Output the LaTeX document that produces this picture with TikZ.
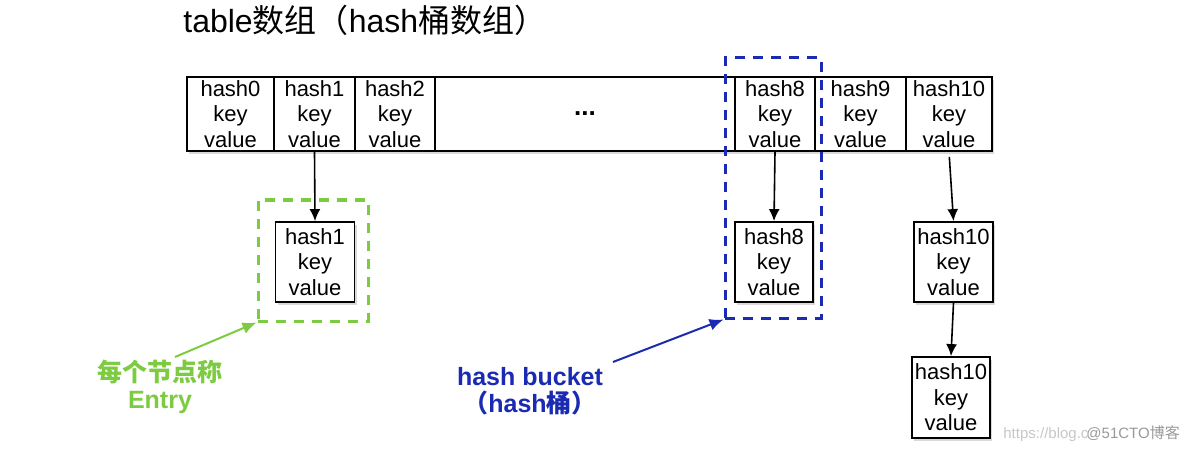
\documentclass[tikz,border=0pt]{standalone}
\usepackage{fontspec}
\setmainfont{Liberation Sans}
\newfontfamily\cjk{Noto Sans CJK SC}
\usetikzlibrary{arrows.meta,shadows}

\definecolor{entrygreen}{HTML}{7DCB40}
\definecolor{bucketblue}{HTML}{1A2AB2}
\newcommand{\zh}[1]{{\cjk #1}}

\tikzset{
  cell/.style={draw, line width=0.9pt, minimum height=37pt, inner sep=0pt, align=center,
    font=\fontsize{11}{12.8}\selectfont},
  entry/.style={cell, fill=white, minimum width=39.5pt, minimum height=40pt,
    drop shadow={opacity=0.3, shadow xshift=1pt, shadow yshift=-1.3pt}},
  link/.style={-{Latex[length=6pt,width=5.5pt]}, line width=0.8pt},
  group/.style={draw, line width=1.5pt, dash pattern=on 5pt off 4pt, inner sep=0pt},
  note/.style={align=center, font=\fontsize{12.5}{13.5}\selectfont\bfseries}
}

\begin{document}
\begin{tikzpicture}[x=0.5pt, y=-0.5pt]
\useasboundingbox (0,0) rectangle (1184,449);

% title
\node[anchor=base west, inner sep=0pt, font=\fontsize{16}{16}\selectfont] (title) at (183,33)
  {table\zh{数组（}hash\zh{桶数组）}};

% the table
\node[cell, minimum width=402.5pt, fill=white,
  drop shadow={opacity=0.3, shadow xshift=1pt, shadow yshift=-1.3pt}] (table) at (589.5,114) {};
\node[cell, minimum width=43.5pt] (h0) at (230.5,114) {hash0\\key\\value};
\node[cell, minimum width=40.5pt] (h1) at (314.5,114) {hash1\\key\\value};
\node[cell, minimum width=40pt] (h2) at (395,114) {hash2\\key\\value};
\node[cell, minimum width=150pt, font=\fontsize{13}{13}\selectfont\bfseries] (dots) at (585,114) {...};
\node[cell, minimum width=40pt] (h8) at (775,114) {hash8\\key\\value};
\node[cell, minimum width=45.5pt] (h9) at (860.5,114) {hash9\\key\\value};
\node[cell, minimum width=43pt] (h10) at (949,114) {hash10\\key\\value};

% entries
\node[entry] (e1) at (315,262) {hash1\\key\\value};
\node[entry, minimum width=39pt] (e8) at (774,262) {hash8\\key\\value};
\node[entry] (e10) at (953.5,262) {hash10\\key\\value};
\node[entry, minimum width=39pt, minimum height=40.5pt] (e10b) at (951,397.5) {hash10\\key\\value};

\draw[link] (h1.south) -- (e1.north);
\draw[link] (h8.south) -- (e8.north);
\draw[link, shorten <=2.5pt] (h10.south) -- (e10.north);
\draw[link] (e10.south) -- (e10b.north);

% groups
\node[group, draw=entrygreen, minimum width=55pt, minimum height=60.5pt] (node group) at (313,260.5) {};
\node[group, draw=bucketblue, minimum width=48pt, minimum height=130pt] (bucket) at (773,188) {};

% notes
\node[note, text=entrygreen] (entry note) at (160,387) {\zh{每个节点称}\\Entry};
\node[note, text=bucketblue] (bucket note) at (530,391) {hash bucket\\\zh{（}hash\zh{桶）}};
\coordinate (entry tail) at (175,357);
\coordinate (bucket tail) at (613,362);
\draw[-{Latex[length=7pt,width=6pt]}, line width=1pt, entrygreen] (entry tail) -- (node group.south west);
\draw[-{Latex[length=7pt,width=6pt]}, line width=1pt, bucketblue] (bucket tail) -- (bucket.south west);

% watermark
\node[anchor=base west, inner sep=0pt, font=\fontsize{7.5}{7.5}\selectfont] (mark) at (1003,438)
  {\textcolor{black!22}{https://blog.c}\kern-1pt\textcolor{black!40}{@51CTO\zh{博客}}};

\end{tikzpicture}
\end{document}
